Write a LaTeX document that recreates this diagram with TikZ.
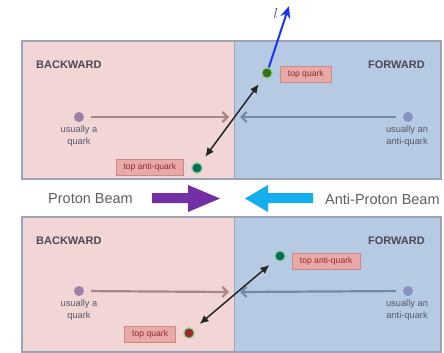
\documentclass[tikz,border=0pt]{standalone}
\usepackage{fontspec}
\setmainfont{Liberation Sans}
\usetikzlibrary{arrows.meta}

\definecolor{bwdbg}{HTML}{F2D6D6}
\definecolor{fwdbg}{HTML}{B6CAE3}
\definecolor{panelline}{HTML}{9AA4B8}
\definecolor{headtxt}{HTML}{4A4A55}
\definecolor{desctxt}{HTML}{55586A}
\definecolor{boxfill}{HTML}{E9A9A9}
\definecolor{boxline}{HTML}{C98A8A}
\definecolor{boxtxt}{HTML}{8A2E2E}
\definecolor{quarkdot}{HTML}{9C80A6}
\definecolor{aquarkdot}{HTML}{8791C4}
\definecolor{quarkline}{HTML}{A88686}
\definecolor{aquarkline}{HTML}{7189AC}
\definecolor{ring}{HTML}{8FD89A}
\definecolor{topgreen}{HTML}{3F6A1E}
\definecolor{topteal}{HTML}{0B6A5C}
\definecolor{topred}{HTML}{9A2A22}
\definecolor{protonarrow}{HTML}{7230A4}
\definecolor{pbararrow}{HTML}{14AEEE}
\definecolor{beamtxt}{HTML}{5E5E62}
\definecolor{leptonblue}{HTML}{1A36F2}
\definecolor{leptontxt}{HTML}{3448B4}

\tikzset{
  panelhead/.style={font=\bfseries\fontsize{11}{13}\selectfont, text=headtxt, inner sep=0pt},
  desc/.style={font=\fontsize{9.3}{12}\selectfont, text=desctxt, align=center, inner sep=0pt},
  qlabel/.style={draw=boxline, line width=0.8pt, fill=boxfill, text=boxtxt,
    font=\fontsize{8.6}{10}\selectfont, minimum height=16pt, inner xsep=7.5pt, inner ysep=0pt},
  partondot/.style={circle, minimum size=10pt, inner sep=0pt},
  topdot/.style={circle, minimum size=10.5pt, inner sep=0pt, draw=ring, line width=1.2pt},
  qflow/.style={draw=quarkline, line width=2.2pt, -{Straight Barb[length=5pt,width=10pt]}, shorten <=7pt},
  aqflow/.style={draw=aquarkline, line width=2.2pt, -{Straight Barb[length=5pt,width=10pt]}, shorten <=7pt},
  pairline/.style={draw=black!85, line width=1.5pt, {Latex[length=9pt,width=8pt]}-{Latex[length=9pt,width=8pt]},
    shorten <=8pt, shorten >=8pt},
  beamtext/.style={font=\fontsize{14.5}{17}\selectfont, text=beamtxt, inner sep=0pt},
}

\begin{document}
\begin{tikzpicture}[x=1pt, y=-1pt]
\useasboundingbox (0,0) rectangle (444,353);

% ---- upper panel ----
\fill[bwdbg] (22,41) rectangle (234,179);
\fill[fwdbg] (234,41) rectangle (441,179);
\draw[panelline, line width=1.2pt] (22,41) rectangle (441,179);
\draw[panelline, line width=1pt] (234,41) -- (234,179);

\node[panelhead, anchor=west] (bw1) at (36,65) {BACKWARD};
\node[panelhead, anchor=east] (fw1) at (425,65) {FORWARD};

\node[partondot, fill=quarkdot] (q1) at (79,117) {};
\node[desc, anchor=north] (q1txt) at (79,126) {usually a\\quark};
\node[partondot, fill=aquarkdot] (a1) at (408,117) {};
\node[desc, anchor=north] (a1txt) at (407,126) {usually an\\anti-quark};
\coordinate (q1end) at (229,117);
\coordinate (a1end) at (240,117);
\draw[qflow] (q1) -- (q1end);
\draw[aqflow] (a1) -- (a1end);

\node[topdot, fill=topgreen] (t1) at (267,73) {};
\node[qlabel, anchor=west] (t1lab) at (280,74) {top quark};
\node[topdot, fill=topteal] (tb1) at (197,168) {};
\node[qlabel, anchor=east] (tb1lab) at (184,167) {top anti-quark};
\draw[pairline] (tb1) -- (t1);

% lepton from the top quark decay
\coordinate (ltip) at (289,6);
\draw[leptonblue, line width=2pt, -{Stealth[length=12pt,width=10pt]}] (t1) -- (ltip);
\node[text=leptontxt, inner sep=0pt] (llab) at (276,14) {\fontsize{14}{14}\selectfont$l$};

% ---- beam directions ----
\node[beamtext, anchor=west] (pbeam) at (48,199) {Proton Beam};
\node[beamtext, anchor=west] (pbbeam) at (325,199) {Anti-Proton Beam};
\fill[protonarrow] (152,193) -- (188,193) -- (188,185) -- (220,198.5) -- (188,212) -- (188,203) -- (152,203) -- cycle;
\fill[pbararrow] (313,193) -- (268,193) -- (268,185) -- (245,198.5) -- (268,212) -- (268,203) -- (313,203) -- cycle;

% ---- lower panel ----
\fill[bwdbg] (22,217) rectangle (234,352);
\fill[fwdbg] (234,217) rectangle (441,352);
\draw[panelline, line width=1.2pt] (22,217) rectangle (441,352);
\draw[panelline, line width=1pt] (234,217) -- (234,352);

\node[panelhead, anchor=west] (bw2) at (36,241) {BACKWARD};
\node[panelhead, anchor=east] (fw2) at (425,241) {FORWARD};

\node[partondot, fill=quarkdot] (q2) at (79,291) {};
\node[desc, anchor=north] (q2txt) at (79,300) {usually a\\quark};
\node[partondot, fill=aquarkdot] (a2) at (408,291) {};
\node[desc, anchor=north] (a2txt) at (407,300) {usually an\\anti-quark};
\coordinate (q2end) at (229,292);
\coordinate (a2end) at (240,292);
\draw[qflow] (q2) -- (q2end);
\draw[aqflow] (a2) -- (a2end);

\node[topdot, fill=topteal] (tb2) at (280,256) {};
\node[qlabel, anchor=west] (tb2lab) at (292,261) {top anti-quark};
\node[topdot, fill=topred] (t2) at (189,333) {};
\node[qlabel, anchor=east] (t2lab) at (176,334) {top quark};
\draw[pairline] (t2) -- (tb2);
\end{tikzpicture}
\end{document}
